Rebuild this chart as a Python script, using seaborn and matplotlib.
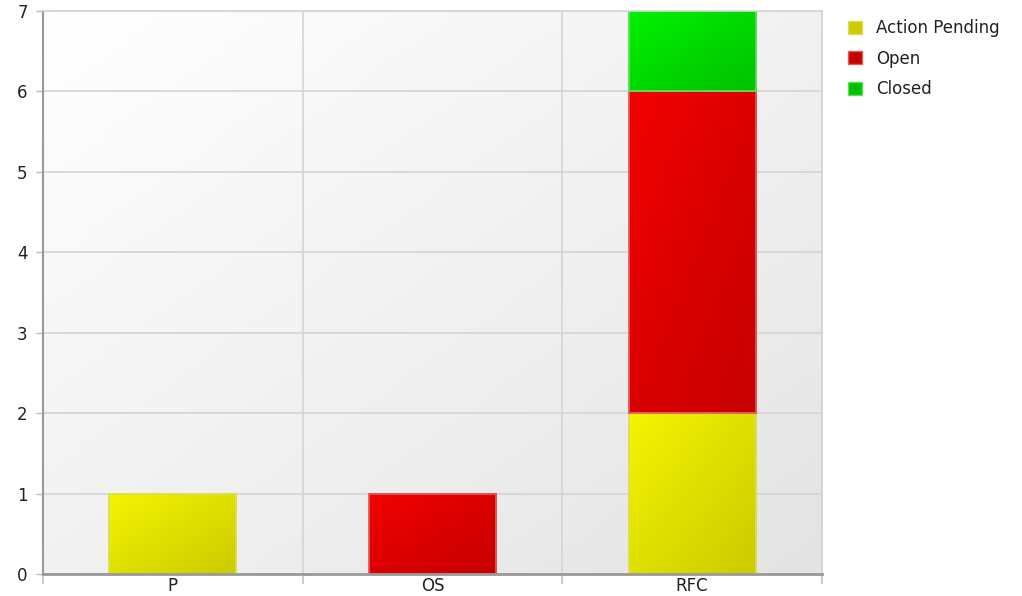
import numpy as np
import pandas as pd
import matplotlib
matplotlib.use("Agg")
import matplotlib.pyplot as plt
from matplotlib.patches import Patch
from matplotlib.colors import to_rgb
import seaborn as sns

categories = ["P", "OS", "RFC"]
series_names = ["Action Pending", "Open", "Closed"]
action_pending = [1, 0, 2]
open_items = [0, 1, 4]
closed = [0, 0, 1]

# light top-left -> dark bottom-right, plus edge colour
styles = {
    "Action Pending": ("#f4f400", "#cbcb00", "#dede50"),
    "Open": ("#f20000", "#c60000", "#e05a5a"),
    "Closed": ("#00f200", "#00c000", "#5ae05a"),
}

sns.set_theme(style="white")
plt.rcParams["font.family"] = ["DejaVu Sans"]

fig = plt.figure(figsize=(10.22, 5.96), dpi=100)
ax = fig.add_axes([43 / 1022, 22 / 596, 779 / 1022, 563 / 596])


def diag_gradient(c0, c1, n=64):
    xx, yy = np.meshgrid(np.linspace(0, 1, n), np.linspace(0, 1, n))
    t = (xx + yy) / 2
    c0, c1 = np.array(to_rgb(c0)), np.array(to_rgb(c1))
    return c0 + (c1 - c0) * t[..., None]


# background
ax.imshow(diag_gradient("#ffffff", "#e4e4e4"), extent=[0, 1, 0, 1],
          transform=ax.transAxes, aspect="auto", zorder=0)

values = {"Action Pending": action_pending, "Open": open_items, "Closed": closed}
bottom = np.zeros(len(categories))
for name in series_names:
    vals = np.array(values[name], dtype=float)
    df = pd.DataFrame({"cat": categories, "val": vals, "bottom": bottom.copy()})
    df = df[df["val"] > 0]
    n_before = len(ax.patches)
    sns.barplot(data=df, x="cat", y="val", order=categories, width=0.49,
                bottom=df["bottom"].values, color=styles[name][0],
                errorbar=None, ax=ax)
    c0, c1, ec = styles[name]
    for p in ax.patches[n_before:]:
        x, y, w, h = p.get_x(), p.get_y(), p.get_width(), p.get_height()
        ax.imshow(diag_gradient(c0, c1), extent=[x, x + w, y, y + h],
                  aspect="auto", zorder=1.5, origin="upper")
        p.set_facecolor("none")
        p.set_edgecolor(ec)
        p.set_linewidth(1.3)
        p.set_zorder(2)
    bottom = bottom + vals

ax.set_xlim(-0.5, len(categories) - 0.5)
ax.set_ylim(0, 7)
ax.set_xlabel("")
ax.set_ylabel("")

ax.set_yticks(range(0, 8))
ax.set_xticks(range(len(categories)))
ax.set_xticklabels(categories)
ax.set_xticks(np.arange(-0.5, len(categories)), minor=True)

ax.grid(axis="y", color="#d4d4d4", linewidth=1.2, zorder=0.5)
ax.grid(axis="x", which="minor", color="#d4d4d4", linewidth=1.2, zorder=0.5)
ax.grid(axis="x", which="major", visible=False)
ax.set_axisbelow(True)

ax.tick_params(axis="x", which="major", length=0, pad=2, labelsize=12, labelcolor="#222222")
ax.tick_params(axis="x", which="minor", length=7, color="#cccccc", width=1.5, bottom=True)
ax.tick_params(axis="y", length=5, color="#bbbbbb", width=1, left=True, pad=6,
               labelsize=12, labelcolor="#222222")

for side in ["top", "right"]:
    ax.spines[side].set_visible(True)
    ax.spines[side].set_color("#d4d4d4")
    ax.spines[side].set_linewidth(1.2)
ax.spines["left"].set_color("#999999")
ax.spines["left"].set_linewidth(1.5)
ax.spines["bottom"].set_color("#999999")
ax.spines["bottom"].set_linewidth(2)

handles = [Patch(facecolor=styles[n][1], edgecolor=styles[n][2], label=n) for n in series_names]
fig.legend(handles=handles, loc="upper left", bbox_to_anchor=(833 / 1022, 1 - 4 / 596),
           frameon=False, fontsize=12, handlelength=0.85, handleheight=0.85,
           handletextpad=0.85, labelspacing=0.75, labelcolor="#222222")

fig.savefig("out.png", dpi=100)
